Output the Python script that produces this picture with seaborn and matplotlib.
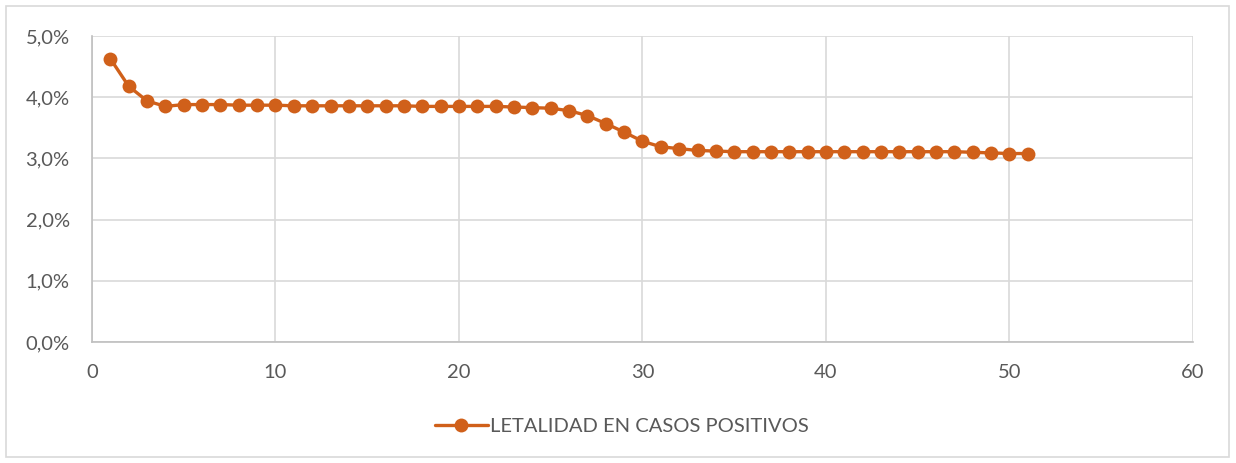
import numpy as np
import pandas as pd
import matplotlib
matplotlib.use("Agg")
import matplotlib.pyplot as plt
from matplotlib.ticker import FuncFormatter
import seaborn as sns

# dia / semana del registro
dias = list(range(1, 52))
# letalidad en casos positivos (%)
letalidad = [4.63, 4.18, 3.94, 3.85, 3.88, 3.88, 3.88, 3.87, 3.87, 3.87,
             3.86, 3.86, 3.86, 3.86, 3.86, 3.86, 3.86, 3.85, 3.85, 3.85,
             3.85, 3.85, 3.84, 3.83, 3.82, 3.78, 3.70, 3.57, 3.43, 3.28,
             3.19, 3.16, 3.13, 3.12, 3.11, 3.11, 3.11, 3.11, 3.11, 3.11,
             3.11, 3.11, 3.11, 3.11, 3.11, 3.11, 3.11, 3.10, 3.09, 3.08,
             3.08]
serie = "LETALIDAD EN CASOS POSITIVOS"

df = pd.DataFrame({"dia": dias, "letalidad": np.array(letalidad) / 100})

sns.set_style("white")
plt.rcParams["font.family"] = ["Lato", "DejaVu Sans"]

color = "#D0601A"
gris = "#595959"

fig = plt.figure(figsize=(12.36, 4.63), dpi=100)
ax = fig.add_axes([0.0744, 0.2613, 0.8908, 0.6609])

sns.lineplot(data=df, x="dia", y="letalidad", ax=ax, color=color,
             marker="o", markersize=10, markeredgewidth=0, linewidth=2.4,
             label=serie)

ax.set_xlim(0, 60)
ax.set_ylim(0, 0.05)
ax.set_xticks(range(0, 61, 10))
ax.set_yticks(np.arange(0, 0.0501, 0.01))
ax.yaxis.set_major_formatter(FuncFormatter(lambda v, p: f"{v*100:.1f}%".replace(".", ",")))
ax.grid(True, color="#d9d9d9", linewidth=1.2)
ax.set_axisbelow(True)
ax.set_xlabel("")
ax.set_ylabel("")
for s in ["top", "right"]:
    ax.spines[s].set_visible(False)
for s in ["left", "bottom"]:
    ax.spines[s].set_color("#bfbfbf")
    ax.spines[s].set_linewidth(1.2)
ax.tick_params(axis="both", length=0, labelsize=14.5, labelcolor=gris)
ax.tick_params(axis="x", pad=16)
ax.tick_params(axis="y", pad=16)

leg = ax.legend(loc="center", frameon=False, fontsize=14.5,
                handlelength=2.6, handletextpad=0.1)
leg.set_bbox_to_anchor((0.503, 0.078), transform=fig.transFigure)
for t in leg.get_texts():
    t.set_color(gris)

# borde exterior del grafico
fig.patches.append(plt.Rectangle((0.005, 0.012), 0.989, 0.975, transform=fig.transFigure,
                                 fill=False, edgecolor="#d9d9d9", linewidth=1.2))

fig.savefig("out.png", dpi=100)
